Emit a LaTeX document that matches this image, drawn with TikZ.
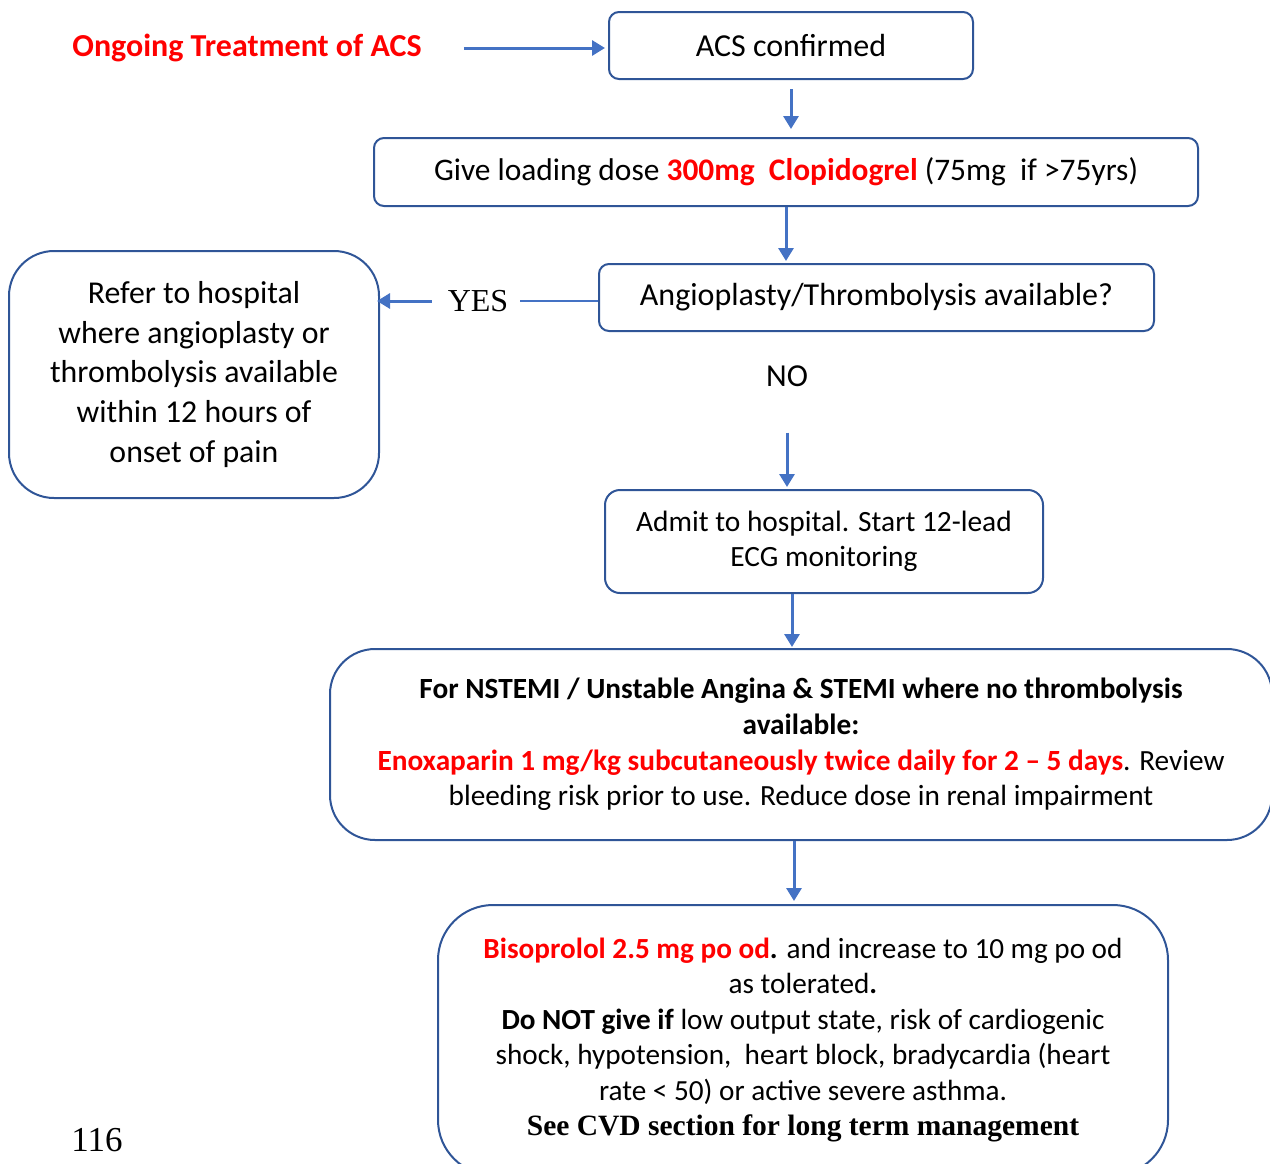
\documentclass[tikz,border=0pt]{standalone}
\usepackage{fontspec}
\setmainfont{Carlito}
\newfontfamily\timesfont{Liberation Serif}
\usepackage{xcolor}
\usetikzlibrary{arrows.meta}
\definecolor{boxblue}{HTML}{2F5597}
\definecolor{arrowblue}{HTML}{4472C4}
\definecolor{alertred}{HTML}{FF0000}

\tikzset{
flowbox/.style={draw=boxblue, line width=2pt, rounded corners=10pt, align=center, inner sep=0pt},
flowarrow/.style={draw=arrowblue, line width=3pt, -{Triangle[width=15pt,length=13pt]}},
plainlabel/.style={inner sep=2pt}
}

\begin{document}
\begin{tikzpicture}[x=1pt,y=-1pt]
\clip (0,0) rectangle (1270,1163);

\node[plainlabel, text=alertred, font=\bfseries\fontsize{32}{38}\selectfont] (ongoing) at (247,48) {Ongoing Treatment of ACS};

\node[flowbox, minimum width=364pt, minimum height=67pt, font=\fontsize{32}{38}\selectfont] (acs) at (791,45.5) {ACS confirmed};

\node[flowbox, minimum width=824pt, minimum height=68pt, font=\fontsize{31.4}{38}\selectfont] (give) at (786,172)
{Give loading dose {\color{alertred}\bfseries 300mg\ \ Clopidogrel} (75mg\ \ if >75yrs)};

\node[flowbox, minimum width=555pt, minimum height=67pt, font=\fontsize{32}{38}\selectfont] (angio) at (876.5,297.5) {Angioplasty/Thrombolysis available?};

\node[flowbox, rounded corners=45pt, minimum width=370pt, minimum height=247pt, font=\fontsize{31.8}{39.7}\selectfont] (refer) at (194,374.5)
{Refer to hospital\\where angioplasty or\\thrombolysis available\\within 12 hours of\\onset of pain};

\node[plainlabel, font=\timesfont\fontsize{32}{38}\selectfont] (yes) at (478,301) {YES};
\node[plainlabel, font=\fontsize{32}{38}\selectfont] (no) at (787,376) {NO};

\node[flowbox, rounded corners=15pt, minimum width=438pt, minimum height=103pt, font=\fontsize{29.4}{35}\selectfont] (admit) at (824,541.5)
{Admit to hospital. Start 12-lead\\ECG monitoring};

\node[flowbox, rounded corners=45pt, minimum width=942pt, minimum height=191pt, font=\fontsize{29.3}{35.7}\selectfont] (nstemi) at (801,744.5)
{\textbf{For NSTEMI / Unstable Angina \& STEMI where no thrombolysis}\\
\textbf{available:}\\
{\color{alertred}\bfseries Enoxaparin 1 mg/kg subcutaneously twice daily for 2 -- 5 days}. Review\\
bleeding risk prior to use. Reduce dose in renal impairment};

\node[flowbox, rounded corners=55pt, minimum width=730pt, minimum height=270pt, font=\fontsize{29.2}{35.5}\selectfont] (biso) at (803,1040)
{{\color{alertred}\bfseries Bisoprolol 2.5 mg po od}\textbf{.} and increase to 10 mg po od\\
as tolerated\textbf{.}\\
\textbf{Do NOT give if} low output state, risk of cardiogenic\\
shock, hypotension,\ \ heart block, bradycardia (heart\\
rate < 50) or active severe asthma.\\
{\timesfont\bfseries\fontsize{29.5}{35.5}\selectfont See CVD section for long term management}};

\node[plainlabel, font=\timesfont\fontsize{35}{40}\selectfont] (pagenum) at (97,1140) {116};

% connectors
\draw[flowarrow, shorten <=40pt, shorten >=3pt] (ongoing.east) -- (ongoing.east -| acs.west);
\draw[flowarrow, shorten <=9pt, shorten >=8pt] (acs.south) -- (acs.south |- give.north);
\draw[flowarrow, shorten >=2pt] (give.south) -- (give.south |- angio.north);
\draw[arrowblue, line width=1.5pt, shorten <=10pt] (yes.east) -- (yes.east -| angio.west);
\draw[flowarrow, shorten <=14pt, shorten >=-3pt] (yes.west) -- (yes.west -| refer.east);
\draw[flowarrow, shorten <=44pt, shorten >=2pt] (no.south) -- (no.south |- admit.north);
\draw[flowarrow, shorten >=1pt] ([xshift=-32pt]admit.south) -- ([xshift=-32pt]admit.south |- nstemi.north);
\draw[flowarrow, shorten >=3pt] ([xshift=-7pt]nstemi.south) -- ([xshift=-7pt]nstemi.south |- biso.north);

\end{tikzpicture}
\end{document}
